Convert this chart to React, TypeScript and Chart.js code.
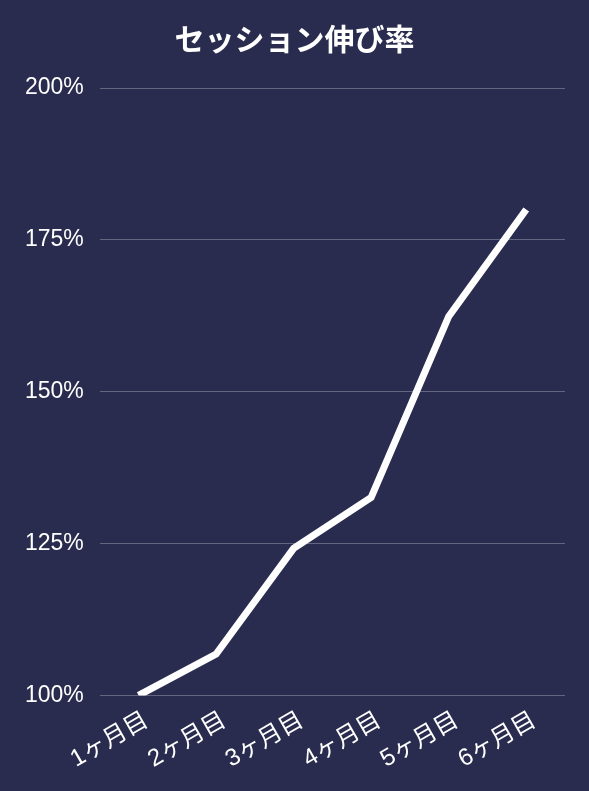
import React, { useEffect, useRef } from "react";
import { Chart, registerables } from "chart.js";

Chart.register(...registerables);

const categories = ["1ヶ月目", "2ヶ月目", "3ヶ月目", "4ヶ月目", "5ヶ月目", "6ヶ月目"];
const growthValues = [100, 106.8, 124.2, 132.6, 162.4, 180];
const chartTitle = "セッション伸び率";

const BG = "#292c4e";
const FONT = "'Liberation Sans', Arial, 'Noto Sans CJK JP', sans-serif";

export default function App() {
  const ref = useRef<HTMLCanvasElement | null>(null);

  useEffect(() => {
    document.body.style.margin = "0";
    document.body.style.background = BG;
    const canvas = ref.current;
    if (!canvas) return;
    const chart = new Chart(canvas, {
      type: "line",
      data: {
        labels: categories,
        datasets: [
          {
            data: growthValues,
            borderColor: "#ffffff",
            borderWidth: 7,
            borderCapStyle: "butt",
            pointRadius: 0,
            pointHoverRadius: 0,
            tension: 0,
            fill: false,
          },
        ],
      },
      options: {
        animation: false,
        responsive: false,
        maintainAspectRatio: false,
        layout: { padding: { left: 24, right: 24, top: 16, bottom: 14 } },
        plugins: {
          legend: { display: false },
          tooltip: { enabled: false },
          title: {
            display: true,
            text: chartTitle,
            color: "#ffffff",
            font: { family: FONT, size: 30, weight: "bold" },
            padding: { top: 8, bottom: 28 },
          },
        },
        scales: {
          x: {
            offset: true,
            grid: { display: false },
            border: { display: false },
            ticks: {
              color: "#ffffff",
              font: { family: FONT, size: 24 },
              maxRotation: 30,
              minRotation: 30,
              labelOffset: 8,
            },
          },
          y: {
            min: 100,
            max: 200,
            afterFit: (scale: any) => {
              scale.width = scale.width - 15;
            },
            grid: { color: "rgba(255,255,255,0.28)", lineWidth: 1, drawTicks: false },
            border: { display: false },
            ticks: {
              stepSize: 25,
              color: "#ffffff",
              padding: 16,
              font: { family: FONT, size: 23 },
              callback: (v: any) => v + "%",
            },
          },
        },
      },
    });
    return () => chart.destroy();
  }, []);

  return (
    <div style={{ width: 589, height: 791, background: BG }}>
      <canvas ref={ref} width={589} height={791} style={{ display: "block" }} />
    </div>
  );
}
